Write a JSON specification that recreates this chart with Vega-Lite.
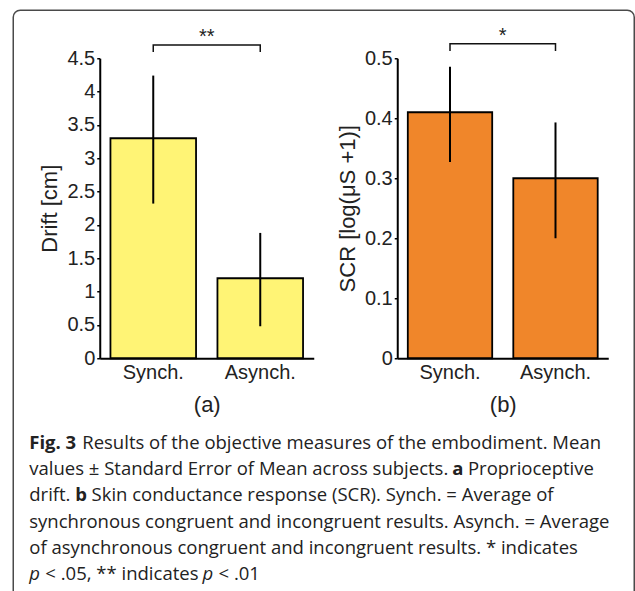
{
  "$schema": "https://vega.github.io/schema/vega-lite/v6.json",
  "padding": {"left": 12.25, "top": 9.25, "right": 0, "bottom": 0},
  "background": "white",
  "bounds": "flush",
  "spacing": 48,
  "config": {
    "view": {"stroke": null},
    "font": "Liberation Sans",
    "axis": {
      "domainColor": "#000", "domainWidth": 2, "grid": false, "labelOverlap": false,
      "labelFont": "Liberation Sans", "labelFontSize": 20, "labelColor": "#222",
      "titleFont": "Liberation Sans", "titleFontSize": 22, "titleFontWeight": "normal", "titleColor": "#222",
      "tickColor": "#000", "tickWidth": 1.5
    },
    "axisX": {"ticks": false, "labelPadding": 4, "titlePadding": 12, "labelAngle": 0},
    "axisY": {"tickSize": 3, "labelPadding": 2, "titlePadding": 5}
  },
  "vconcat": [
    {
      "vconcat": [
        {
          "width": 621, "height": 620,
          "view": {"stroke": "#4a4a4a", "strokeWidth": 1.5, "cornerRadius": 7},
          "data": {"values": [
            {"line": 1, "seg": "A", "text": "Fig. 3"},
            {"line": 1, "seg": "C", "text": "Results of the objective measures of the embodiment. Mean"},
            {"line": 2, "seg": "B", "text": "values ± Standard Error of Mean across subjects."},
            {"line": 2, "seg": "D", "text": "a"},
            {"line": 2, "seg": "E", "text": "Proprioceptive"},
            {"line": 3, "seg": "B", "text": "drift."},
            {"line": 3, "seg": "G", "text": "b"},
            {"line": 3, "seg": "H", "text": "Skin conductance response (SCR). Synch. = Average of"},
            {"line": 4, "seg": "B", "text": "synchronous congruent and incongruent results. Asynch. = Average"},
            {"line": 5, "seg": "B", "text": "of asynchronous congruent and incongruent results. * indicates"},
            {"line": 6, "seg": "I", "text": "p"},
            {"line": 6, "seg": "J", "text": "< .05, ** indicates"},
            {"line": 6, "seg": "K", "text": "p"},
            {"line": 6, "seg": "L", "text": "< .01"}
          ]},
          "encoding": {
            "y": {"field": "line", "type": "ordinal", "scale": {"type": "point", "padding": 0, "range": [439, 569.5]}, "axis": null},
            "text": {"field": "text"}
          },
          "layer": [
            {"transform": [{"filter": "datum.seg == 'A'"}],
             "mark": {"type": "text", "align": "left", "baseline": "alphabetic", "font": "Open Sans", "fontSize": 18.5, "fontWeight": "bold", "color": "#222", "dx": -294.5}},
            {"transform": [{"filter": "datum.seg == 'B'"}],
             "mark": {"type": "text", "align": "left", "baseline": "alphabetic", "font": "Open Sans", "fontSize": 18.5, "color": "#222", "dx": -294.5}},
            {"transform": [{"filter": "datum.seg == 'C'"}],
             "mark": {"type": "text", "align": "left", "baseline": "alphabetic", "font": "Open Sans", "fontSize": 18.5, "color": "#222", "dx": -241.5}},
            {"transform": [{"filter": "datum.seg == 'D'"}],
             "mark": {"type": "text", "align": "left", "baseline": "alphabetic", "font": "Open Sans", "fontSize": 18.5, "fontWeight": "bold", "color": "#222", "dx": 128.5}},
            {"transform": [{"filter": "datum.seg == 'E'"}],
             "mark": {"type": "text", "align": "left", "baseline": "alphabetic", "font": "Open Sans", "fontSize": 18.5, "color": "#222", "dx": 144.2}},
            {"transform": [{"filter": "datum.seg == 'G'"}],
             "mark": {"type": "text", "align": "left", "baseline": "alphabetic", "font": "Open Sans", "fontSize": 18.5, "fontWeight": "bold", "color": "#222", "dx": -248.4}},
            {"transform": [{"filter": "datum.seg == 'H'"}],
             "mark": {"type": "text", "align": "left", "baseline": "alphabetic", "font": "Open Sans", "fontSize": 18.5, "color": "#222", "dx": -232.2}},
            {"transform": [{"filter": "datum.seg == 'I'"}],
             "mark": {"type": "text", "align": "left", "baseline": "alphabetic", "font": "Open Sans", "fontSize": 18.5, "fontStyle": "italic", "color": "#222", "dx": -294.5}},
            {"transform": [{"filter": "datum.seg == 'J'"}],
             "mark": {"type": "text", "align": "left", "baseline": "alphabetic", "font": "Open Sans", "fontSize": 18.5, "color": "#222", "dx": -278.4}},
            {"transform": [{"filter": "datum.seg == 'K'"}],
             "mark": {"type": "text", "align": "left", "baseline": "alphabetic", "font": "Open Sans", "fontSize": 18.5, "fontStyle": "italic", "color": "#222", "dx": -121.3}},
            {"transform": [{"filter": "datum.seg == 'L'"}],
             "mark": {"type": "text", "align": "left", "baseline": "alphabetic", "font": "Open Sans", "fontSize": 18.5, "color": "#222", "dx": -105.2}}
          ]
        }
      ]
    },
    {
      "hconcat": [
        {
          "width": 3, "height": 300,
          "data": {"values": []},
          "mark": {"type": "rule"},
          "encoding": {}
        },
        {
          "width": 214, "height": 300,
          "data": {"values": [
            {"cond": "Synch.", "mean": 3.30, "lo": 2.32, "hi": 4.24},
            {"cond": "Asynch.", "mean": 1.20, "lo": 0.48, "hi": 1.88}
          ]},
          "layer": [
            {
              "mark": {"type": "bar", "fill": "#FFF475", "stroke": "#000", "strokeWidth": 1.8},
              "encoding": {
                "x": {"field": "cond", "type": "nominal", "sort": null,
                      "scale": {"domain": ["Synch.", "Asynch."], "paddingInner": 0.2, "paddingOuter": 0.1},
                      "axis": {"title": "(a)"}},
                "y": {"field": "mean", "type": "quantitative",
                      "scale": {"domain": [0, 4.5], "nice": false},
                      "axis": {"title": "Drift [cm]", "values": [0, 0.5, 1, 1.5, 2, 2.5, 3, 3.5, 4, 4.5], "tickCount": 10, "format": "~g"}}
              }
            },
            {
              "mark": {"type": "rule", "color": "#000", "strokeWidth": 2},
              "encoding": {
                "x": {"field": "cond", "type": "nominal", "sort": null, "axis": {"title": "(a)"}},
                "y": {"field": "lo", "type": "quantitative",
                      "axis": {"title": "Drift [cm]", "values": [0, 0.5, 1, 1.5, 2, 2.5, 3, 3.5, 4, 4.5], "tickCount": 10, "format": "~g"}},
                "y2": {"field": "hi"}
              }
            },
            {
              "data": {"values": [
                {"cond": "Synch.", "y": 4.594, "o": 0},
                {"cond": "Synch.", "y": 4.70, "o": 1},
                {"cond": "Asynch.", "y": 4.70, "o": 2},
                {"cond": "Asynch.", "y": 4.594, "o": 3}
              ]},
              "mark": {"type": "line", "color": "#111", "strokeWidth": 1.5, "clip": false},
              "encoding": {
                "x": {"field": "cond", "type": "nominal", "sort": null, "axis": {"title": "(a)"}},
                "y": {"field": "y", "type": "quantitative",
                      "axis": {"title": "Drift [cm]", "values": [0, 0.5, 1, 1.5, 2, 2.5, 3, 3.5, 4, 4.5], "tickCount": 10, "format": "~g"}},
                "order": {"field": "o", "type": "quantitative"}
              }
            },
            {
              "data": {"values": [{"cond": "Synch.", "y": 4.70, "label": "**"}]},
              "mark": {"type": "text", "fontSize": 20, "color": "#222", "baseline": "alphabetic", "dy": -2, "clip": false},
              "encoding": {
                "x": {"field": "cond", "type": "nominal", "sort": null, "bandPosition": 1.125, "axis": {"title": "(a)"}},
                "y": {"field": "y", "type": "quantitative",
                      "axis": {"title": "Drift [cm]", "values": [0, 0.5, 1, 1.5, 2, 2.5, 3, 3.5, 4, 4.5], "tickCount": 10, "format": "~g"}},
                "text": {"field": "label"}
              }
            }
          ]
        },
        {
          "width": 211, "height": 300,
          "data": {"values": [
            {"cond": "Synch.", "mean": 0.41, "lo": 0.327, "hi": 0.486},
            {"cond": "Asynch.", "mean": 0.30, "lo": 0.20, "hi": 0.393}
          ]},
          "layer": [
            {
              "mark": {"type": "bar", "fill": "#F0862A", "stroke": "#000", "strokeWidth": 1.8},
              "encoding": {
                "x": {"field": "cond", "type": "nominal", "sort": null,
                      "scale": {"domain": ["Synch.", "Asynch."], "paddingInner": 0.2, "paddingOuter": 0.1},
                      "axis": {"title": "(b)"}},
                "y": {"field": "mean", "type": "quantitative",
                      "scale": {"domain": [0, 0.5], "nice": false},
                      "axis": {"title": "SCR [log(μS +1)]", "values": [0, 0.1, 0.2, 0.3, 0.4, 0.5], "format": "~g"}}
              }
            },
            {
              "mark": {"type": "rule", "color": "#000", "strokeWidth": 2},
              "encoding": {
                "x": {"field": "cond", "type": "nominal", "sort": null, "axis": {"title": "(b)"}},
                "y": {"field": "lo", "type": "quantitative",
                      "axis": {"title": "SCR [log(μS +1)]", "values": [0, 0.1, 0.2, 0.3, 0.4, 0.5], "format": "~g"}},
                "y2": {"field": "hi"}
              }
            },
            {
              "data": {"values": [
                {"cond": "Synch.", "y": 0.512, "o": 0},
                {"cond": "Synch.", "y": 0.524, "o": 1},
                {"cond": "Asynch.", "y": 0.524, "o": 2},
                {"cond": "Asynch.", "y": 0.512, "o": 3}
              ]},
              "mark": {"type": "line", "color": "#111", "strokeWidth": 1.5, "clip": false},
              "encoding": {
                "x": {"field": "cond", "type": "nominal", "sort": null, "axis": {"title": "(b)"}},
                "y": {"field": "y", "type": "quantitative",
                      "axis": {"title": "SCR [log(μS +1)]", "values": [0, 0.1, 0.2, 0.3, 0.4, 0.5], "format": "~g"}},
                "order": {"field": "o", "type": "quantitative"}
              }
            },
            {
              "data": {"values": [{"cond": "Synch.", "y": 0.524, "label": "*"}]},
              "mark": {"type": "text", "fontSize": 20, "color": "#222", "baseline": "alphabetic", "dy": -2, "clip": false},
              "encoding": {
                "x": {"field": "cond", "type": "nominal", "sort": null, "bandPosition": 1.125, "axis": {"title": "(b)"}},
                "y": {"field": "y", "type": "quantitative",
                      "axis": {"title": "SCR [log(μS +1)]", "values": [0, 0.1, 0.2, 0.3, 0.4, 0.5], "format": "~g"}},
                "text": {"field": "label"}
              }
            }
          ]
        }
      ],
      "spacing": 83.5,
      "bounds": "flush"
    }
  ]
}
